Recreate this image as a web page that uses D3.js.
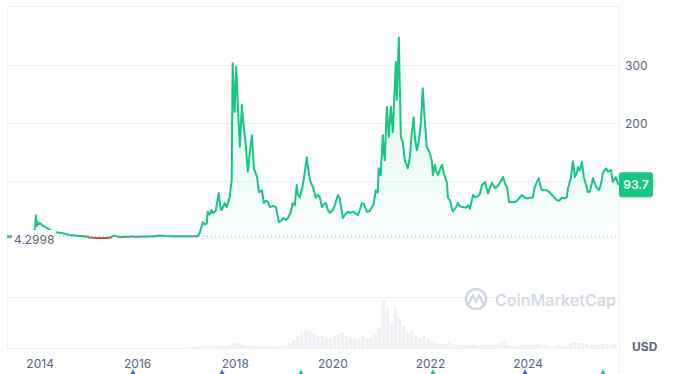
<!DOCTYPE html>
<html><head><meta charset="utf-8">
<script src="https://cdn.jsdelivr.net/npm/d3@7"></script>
<style>
html,body{margin:0;padding:0;background:#fff;}
svg{display:block;font-family:Inter,"Noto Sans",sans-serif;}
</style>
</head><body>
<svg id="chart" width="689" height="374"></svg>
<script>
// ---------- data ----------
const startPrice = 4.2998;
const lastPrice = 93.7;
const currency = "USD";
const gridTicks = [100, 200, 300];
const labelTicks = [200, 300];
const yearTicks = [2014, 2016, 2018, 2020, 2022, 2024];
const prices = [
["2013-04-28",4.2998],["2013-06-04",4.6],["2013-07-19",4.5],["2013-09-02",4.4],["2013-10-17",4.6],
["2013-11-09",6],["2013-11-24",20],["2013-12-01",41],["2013-12-08",22],["2013-12-16",29],["2013-12-23",25],
["2014-01-02",27],["2014-01-15",24],["2014-02-06",21],["2014-03-14",16],["2014-04-21",12],["2014-06-20",10],
["2014-08-11",7],["2014-10-03",5.5],["2014-11-17",4.8],["2014-12-20",4.4],
["2015-01-05",2.6],["2015-02-17",1.8],["2015-03-27",1.7],["2015-05-04",1.8],["2015-06-10",2.4],["2015-06-25",4.6],
["2015-07-10",6.0],["2015-07-26",4.8],["2015-08-25",3.6],["2015-09-20",4.5],["2015-10-25",3.8],["2015-11-20",4.6],["2015-12-17",3.9],
["2016-01-18",4.5],["2016-03-01",4.1],["2016-04-01",4.6],["2016-05-08",4.8],["2016-06-15",6.0],["2016-07-23",5.0],["2016-10-06",4.8],["2016-12-20",4.7],
["2017-01-24",4.8],["2017-03-03",4.7],["2017-03-25",4.9],["2017-04-09",10],["2017-05-02",29],["2017-05-17",25],
["2017-06-01",27],["2017-06-08",47],["2017-06-23",42],["2017-07-08",50],["2017-07-16",45],["2017-08-07",48],
["2017-08-30",79],["2017-09-14",52],["2017-09-21",50],["2017-10-14",62],["2017-10-29",55],["2017-11-20",72],
["2017-12-05",102],["2017-12-12",303],["2017-12-27",219],
["2018-01-08",297],["2018-01-20",230],["2018-02-04",159],["2018-02-19",231],["2018-02-26",210],["2018-03-21",160],
["2018-04-05",116],["2018-04-20",150],["2018-05-05",179],["2018-05-20",122],["2018-06-12",107],["2018-06-27",81],
["2018-07-19",84],["2018-08-03",62],["2018-08-18",66],["2018-09-02",64],["2018-09-17",55],["2018-10-10",57],
["2018-11-01",55],["2018-11-24",29],["2018-12-09",31],["2018-12-24",36],
["2019-01-14",33],["2019-01-29",36],["2019-02-20",46],["2019-03-07",62],["2019-03-22",58],["2019-04-06",93],
["2019-04-14",76],["2019-04-29",72],["2019-05-21",93],["2019-06-05",115],["2019-06-20",141],["2019-06-28",125],
["2019-07-13",102],["2019-08-04",90],["2019-08-27",71],["2019-09-11",76],["2019-09-26",72],["2019-10-11",55],
["2019-10-26",60],["2019-11-10",62],["2019-11-25",50],["2019-12-10",45],
["2020-01-01",50],["2020-01-16",58],["2020-02-07",76],["2020-02-22",70],["2020-03-16",36],["2020-03-31",41],
["2020-04-22",47],["2020-05-07",45],["2020-05-30",47],["2020-06-14",45],["2020-07-06",41],["2020-07-21",50],
["2020-08-05",62],["2020-08-20",60],["2020-09-11",47],["2020-10-03",48],["2020-10-18",55],["2020-11-02",60],
["2020-11-17",84],["2020-12-02",80],["2020-12-09",122],["2020-12-24",110],
["2021-01-09",179],["2021-01-16",150],["2021-01-24",136],["2021-02-08",228],["2021-02-23",176],["2021-03-10",228],
["2021-03-25",184],["2021-04-16",305],["2021-04-24",240],["2021-05-09",348],["2021-05-24",176],["2021-06-08",167],
["2021-06-23",135],["2021-07-15",122],["2021-07-30",140],["2021-08-14",183],["2021-08-29",210],["2021-09-06",175],
["2021-09-21",153],["2021-10-06",170],["2021-10-20",197],["2021-11-04",260],["2021-11-19",205],["2021-12-04",159],
["2021-12-27",148],
["2022-01-11",135],["2022-01-19",110],["2022-02-03",128],["2022-02-11",118],["2022-02-26",110],["2022-03-13",120],
["2022-03-28",128],["2022-04-12",112],["2022-05-04",97],["2022-05-12",71],["2022-05-27",67],["2022-06-11",52],
["2022-06-18",48],["2022-07-11",55],["2022-07-26",62],["2022-08-10",56],["2022-09-01",55],["2022-09-24",54],
["2022-10-09",58],["2022-10-24",52],["2022-11-15",76],["2022-11-30",72],["2022-12-23",74],
["2023-01-06",78],["2023-01-21",93],["2023-02-13",98],["2023-03-07",79],["2023-03-22",88],["2023-04-06",97],
["2023-04-29",88],["2023-05-14",90],["2023-06-05",97],["2023-06-28",107],["2023-07-13",95],["2023-07-28",90],
["2023-08-12",64],["2023-09-03",64],["2023-09-26",64],["2023-10-11",66],["2023-11-02",72],["2023-11-17",76],
["2023-12-09",71],
["2024-01-01",70],["2024-01-15",71],["2024-02-06",72],["2024-02-21",90],["2024-03-07",98],["2024-03-22",105],
["2024-03-30",95],["2024-04-14",84],["2024-05-06",84],["2024-05-21",84],["2024-06-13",80],["2024-06-28",76],
["2024-07-21",70],["2024-08-05",67],["2024-08-20",66],["2024-09-11",71],["2024-10-03",70],["2024-10-18",72],
["2024-10-26",88],["2024-11-17",105],["2024-12-02",134],["2024-12-17",107],
["2025-01-01",115],["2025-01-08",124],["2025-01-23",118],["2025-02-07",133],["2025-02-22",107],["2025-03-09",95],
["2025-03-24",81],["2025-04-08",82],["2025-05-01",105],["2025-05-16",95],["2025-05-31",88],["2025-06-15",84],
["2025-06-30",95],["2025-07-15",114],["2025-08-07",122],["2025-08-22",116],["2025-09-06",118],["2025-09-13",119],
["2025-09-28",98],["2025-10-13",105],["2025-10-20",107],["2025-11-04",95],["2025-11-12",93.7]
];
const volumeStart = "2017-01-01";
const volumes = [
0.5,0.5,1,2,3,2.5,2,3,3,2,3,5,
5,4,3,3,3,2,2,2,2,1.5,2,2,
3,5,8,12,15,18,17,14,12,12,11,10,
12,14,16,12,11,9,9,12,10,10,14,20,
48,40,25,40,30,22,15,18,12,10,12,9,
7,5,4,4,6,4,3,3,3,3,4,3,
3,3,3,3,3,5,7,3,2,2,3,3,
3,3,4,3,3,2,2,3,2,2,5,6,
5,5,4,3,3,3,4,4,3,4
];
const events = [
["2015-11-27","#3861FB"],["2017-09-23","#3861FB"],["2019-05-07","#16C784"],
["2022-01-20","#16C784"],["2023-12-09","#3861FB"],["2025-07-15","#16C784"]
];

// ---------- chart ----------
const svg = d3.select("#chart");
const parse = d3.timeParse("%Y-%m-%d");
const data = prices.map(d => ({date: parse(d[0]), value: d[1]}));

const left = 7, right = 619;
const x = d3.scaleTime().domain([data[0].date, data[data.length-1].date]).range([left, right]);
const y = d3.scaleLinear().domain([0, 300]).range([239, 65]);
const yv = d3.scaleLinear().domain([0, 48]).range([348, 300]);
const yBase = y(startPrice);

const grid = "#EFF2F5";
// frame & grid
svg.append("line").attr("x1", left).attr("x2", right).attr("y1", 6.5).attr("y2", 6.5).attr("stroke", grid);
svg.append("line").attr("x1", left+0.5).attr("x2", left+0.5).attr("y1", 6).attr("y2", 348).attr("stroke", grid);
svg.append("line").attr("x1", right+0.5).attr("x2", right+0.5).attr("y1", 6).attr("y2", 374).attr("stroke", grid);
svg.selectAll(".g").data(gridTicks).enter().append("line")
  .attr("x1", left).attr("x2", right).attr("y1", d => Math.round(y(d))+0.5).attr("y2", d => Math.round(y(d))+0.5)
  .attr("stroke", grid);
[238.5, 297.5, 348.5].forEach(v => svg.append("line").attr("x1", left).attr("x2", right).attr("y1", v).attr("y2", v).attr("stroke", grid));

// volume bars
const vStart = parse(volumeStart);
svg.append("g").selectAll("rect").data(volumes).enter().append("rect")
  .attr("x", (d, i) => x(d3.timeMonth.offset(vStart, i)))
  .attr("width", (d, i) => Math.max(0.5, x(d3.timeMonth.offset(vStart, i+1)) - x(d3.timeMonth.offset(vStart, i)) - 0.8))
  .attr("y", d => yv(d)).attr("height", d => 348 - yv(d))
  .attr("fill", "#EEF0F4");

// watermark
const wm = svg.append("g");
wm.append("circle").attr("cx", 476).attr("cy", 299).attr("r", 10).attr("fill", "none").attr("stroke", "#D3D9E4").attr("stroke-width", 2.6);
wm.append("path").attr("d", "M469,303 L473,295 L476,302 L479,295 L483,303").attr("fill", "none").attr("stroke", "#D3D9E4").attr("stroke-width", 2.4).attr("stroke-linejoin", "round").attr("stroke-linecap", "round");
wm.append("text").attr("x", 495).attr("y", 305.5).attr("font-size", 16).attr("font-weight", 600).attr("fill", "#D3D9E4").text("CoinMarketCap");

// gradients and clips
const defs = svg.append("defs");
const gG = defs.append("linearGradient").attr("id", "gg").attr("gradientUnits", "userSpaceOnUse").attr("x1", 0).attr("x2", 0).attr("y1", 30).attr("y2", yBase);
gG.append("stop").attr("offset", 0).attr("stop-color", "#16C784").attr("stop-opacity", 0.16);
gG.append("stop").attr("offset", 1).attr("stop-color", "#16C784").attr("stop-opacity", 0.02);
defs.append("clipPath").attr("id", "above").append("rect").attr("x", 0).attr("y", 0).attr("width", 689).attr("height", yBase);
defs.append("clipPath").attr("id", "aboveLine").append("rect").attr("x", 0).attr("y", 0).attr("width", 689).attr("height", yBase + 0.9);
defs.append("clipPath").attr("id", "below").append("rect").attr("x", 0).attr("y", yBase).attr("width", 689).attr("height", 30);

const area = d3.area().x(d => x(d.date)).y0(yBase).y1(d => y(d.value));
const line = d3.line().x(d => x(d.date)).y(d => y(d.value));

svg.append("path").datum(data).attr("d", area).attr("fill", "url(#gg)").attr("clip-path", "url(#above)");
svg.append("path").datum(data).attr("d", area).attr("fill", "#EA3943").attr("opacity", 0.08).attr("clip-path", "url(#below)");

// baseline dotted
svg.append("line").attr("x1", left).attr("x2", right - 2).attr("y1", yBase).attr("y2", yBase)
  .attr("stroke", "#A6B0C3").attr("stroke-width", 1).attr("stroke-dasharray", "1,3");

svg.append("path").datum(data).attr("d", line).attr("fill", "none").attr("stroke", "#EA3943").attr("stroke-width", 2)
  .attr("stroke-linejoin", "round").attr("clip-path", "url(#below)");
svg.append("path").datum(data).attr("d", line).attr("fill", "none").attr("stroke", "#16C784").attr("stroke-width", 2)
  .attr("stroke-linejoin", "round").attr("clip-path", "url(#aboveLine)");

// start label
svg.append("rect").attr("x", 12).attr("y", 230).attr("width", 44).attr("height", 17).attr("fill", "#fff");
svg.append("text").attr("x", 14).attr("y", 243.5).attr("font-size", 12).attr("fill", "#58667E").text(startPrice.toString());

// right axis labels
svg.selectAll(".yl").data(labelTicks).enter().append("text")
  .attr("x", 625).attr("y", d => y(d) + 4.5).attr("font-size", 12).attr("fill", "#58667E").text(d => d);

// last price tag
const yl = y(lastPrice);
svg.append("rect").attr("x", 619).attr("y", yl - 12.5).attr("width", 34).attr("height", 25).attr("rx", 3).attr("fill", "#16C784");
svg.append("text").attr("x", 636).attr("y", yl + 4.5).attr("text-anchor", "middle").attr("font-size", 12)
  .attr("font-weight", 600).attr("fill", "#fff").text(lastPrice);

// USD
svg.append("text").attr("x", 632).attr("y", 350.5).attr("font-size", 12).attr("font-weight", 700).attr("fill", "#58667E").text(currency);

// x axis years
svg.selectAll(".xl").data(yearTicks).enter().append("text")
  .attr("x", d => x(new Date(d, 0, 1))).attr("y", 368).attr("text-anchor", "middle")
  .attr("font-size", 12).attr("fill", "#58667E").text(d => d);

// event markers
svg.selectAll(".ev").data(events).enter().append("path")
  .attr("d", d3.symbol().type(d3.symbolTriangle).size(45))
  .attr("transform", d => `translate(${x(parse(d[0]))},375.5)`)
  .attr("fill", d => d[1]);
</script>
</body></html>
